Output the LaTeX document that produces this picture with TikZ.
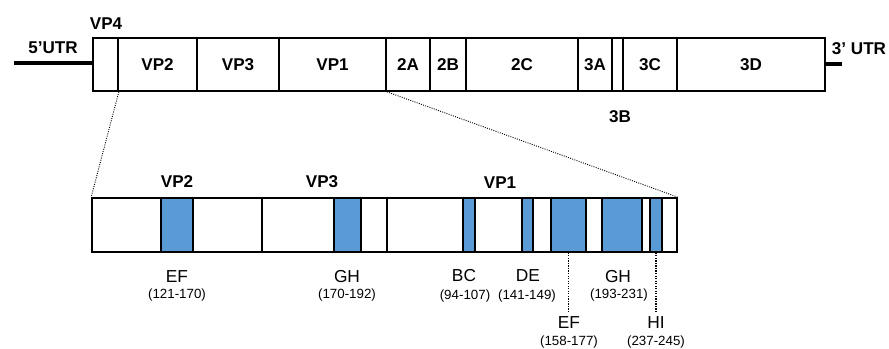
\documentclass[tikz,border=0pt]{standalone}
\usepackage{fontspec}
\setmainfont{Liberation Sans}
\definecolor{epiblue}{HTML}{5B9BD5}
\begin{document}
\begin{tikzpicture}[x=0.75pt,y=-0.75pt,
  seg/.style={draw=black,line width=1.25pt,fill=white,inner sep=0pt,minimum height=39.75pt,
    font=\fontsize{12.8}{15}\selectfont\bfseries},
  bseg/.style={draw=black,line width=1.25pt,fill=white,inner sep=0pt,minimum height=40.5pt},
  epi/.style={draw=black,line width=1.1pt,fill=epiblue,inner sep=0pt,minimum height=40.5pt},
  lbl/.style={font=\fontsize{12.8}{15}\selectfont\bfseries,inner sep=0pt},
  elbl/.style={font=\fontsize{13}{15}\selectfont,inner sep=0pt},
  nlbl/.style={font=\fontsize{10}{12}\selectfont,inner sep=0pt},
  utr/.style={line width=2.3pt},
  zoomline/.style={densely dotted,line width=0.7pt},
  tick/.style={densely dotted,line width=0.9pt}]
\useasboundingbox (0,0) rectangle (889,349);
% top genome bar
\node[seg,minimum width=18.75pt] (vp4) at (105.5,64.5) {};
\node[seg,minimum width=59.25pt] (vp2) at (157.5,64.5) {VP2};
\node[seg,minimum width=61.5pt] (vp3) at (238,64.5) {VP3};
\node[seg,minimum width=80.25pt] (vp1) at (332.5,64.5) {VP1};
\node[seg,minimum width=33pt] (s2a) at (408,64.5) {2A};
\node[seg,minimum width=27pt] (s2b) at (448,64.5) {2B};
\node[seg,minimum width=84pt] (s2c) at (522,64.5) {2C};
\node[seg,minimum width=25.5pt] (s3a) at (595,64.5) {3A};
\node[seg,minimum width=8.25pt] (s3b) at (617.5,64.5) {};
\node[seg,minimum width=40.5pt] (s3c) at (650,64.5) {3C};
\node[seg,minimum width=111pt] (s3d) at (751,64.5) {3D};
% UTR lines
\coordinate (u5) at (14,63);
\coordinate (u3) at (842,64);
\draw[utr] (u5) -- (u5 -| vp4.west);
\draw[utr] (s3d.east |- u3) -- (u3);
% top labels
\node[lbl] (tvp4) at (106,24) {VP4};
\node[lbl] (t5utr) at (53,48) {5’UTR};
\node[lbl] (t3utr) at (859,49) {3’ UTR};
\node[lbl] (t3b) at (620,117) {3B};
% bottom bar
\node[bseg,minimum width=127.5pt] (b2) at (177,225) {};
\node[bseg,minimum width=93.75pt] (b3) at (324.5,225) {};
\node[bseg,minimum width=217.5pt] (b1) at (532,225) {};
\node[epi,minimum width=24pt] (e1) at (177,225) {};
\node[epi,minimum width=20.25pt] (e2) at (347.5,225) {};
\node[epi,minimum width=9pt] (e3) at (469,225) {};
\node[epi,minimum width=8.25pt] (e4) at (527.5,225) {};
\node[epi,minimum width=26.25pt] (e5) at (568.5,225) {};
\node[epi,minimum width=30pt] (e6) at (622,225) {};
\node[epi,minimum width=9pt] (e7) at (656,225) {};
% zoom lines
\draw[zoomline] (vp4.south east) -- (b2.north west);
\draw[zoomline] (vp1.south east) -- (b1.north east);
% tick lines
\coordinate (t5) at (568.5,312);
\coordinate (t7) at (656,312);
\draw[tick] (e5.south) -- (t5);
\draw[tick] (e7.south) -- (t7);
% bottom labels
\node[lbl] (lvp2) at (177,182) {VP2};
\node[lbl] (lvp3) at (322,182) {VP3};
\node[lbl] (lvp1) at (500,183) {VP1};
\node[elbl] (l1) at (177,277) {EF};
\node[nlbl] (n1) at (177,295) {(121-170)};
\node[elbl] (l2) at (347,277) {GH};
\node[nlbl] (n2) at (347,295) {(170-192)};
\node[elbl] (l3) at (464,276) {BC};
\node[nlbl] (n3) at (465,296) {(94-107)};
\node[elbl] (l4) at (528,276) {DE};
\node[nlbl] (n4) at (527,296) {(141-149)};
\node[elbl] (l6) at (618,277) {GH};
\node[nlbl] (n6) at (619,295) {(193-231)};
\node[elbl] (l5) at (569,323) {EF};
\node[nlbl] (n5) at (569,342) {(158-177)};
\node[elbl] (l7) at (656,323) {HI};
\node[nlbl] (n7) at (656,342) {(237-245)};
\end{tikzpicture}
\end{document}
